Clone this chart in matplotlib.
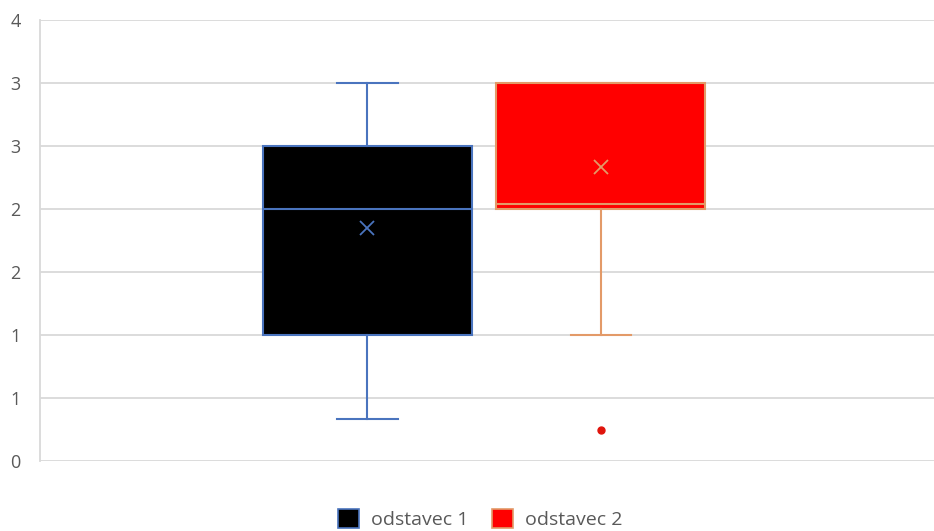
import matplotlib
matplotlib.use("Agg")
import matplotlib.pyplot as plt
import numpy as np
from matplotlib.patches import Patch
from matplotlib.ticker import FuncFormatter, MultipleLocator

# box statistics
labels = ['odstavec 1', 'odstavec 2']
whislo = [0.33, 1.0]
q1 = [1.0, 2.0]
med = [2.0, 2.04]
q3 = [2.5, 3.0]
whishi = [3.0, 3.0]
means = [1.85, 2.33]
fliers = [[], [0.25]]

fills = ['#000000', '#FF0000']
edges = ['#4A74BE', '#E39A68']

plt.rcParams['font.family'] = ['Open Sans', 'DejaVu Sans']

fig = plt.figure(figsize=(9.34, 5.31), dpi=100)
ax = fig.add_axes([40 / 934, 70 / 531, 894 / 934, 441 / 531])

positions = [0.3663, 0.6275]
for i in range(len(labels)):
    stats = [dict(whislo=whislo[i], q1=q1[i], med=med[i], q3=q3[i],
                  whishi=whishi[i], mean=means[i], fliers=fliers[i], label=labels[i])]
    ax.bxp(stats, positions=[positions[i]], widths=0.2338, capwidths=0.068,
           patch_artist=True, showmeans=True, manage_ticks=False,
           boxprops=dict(facecolor=fills[i], edgecolor=edges[i], linewidth=1.5),
           medianprops=dict(color=edges[i], linewidth=1.5),
           whiskerprops=dict(color=edges[i], linewidth=1.5),
           capprops=dict(color=edges[i], linewidth=1.5),
           meanprops=dict(marker='x', markeredgecolor=edges[i], markersize=10,
                          markeredgewidth=1.3),
           flierprops=dict(marker='o', markerfacecolor='#E0140C',
                           markeredgecolor='#E0140C', markersize=5))

ax.set_xlim(0, 1)
ax.set_ylim(0, 3.5)
ax.yaxis.set_major_locator(MultipleLocator(0.5))
ax.yaxis.set_major_formatter(FuncFormatter(lambda v, p: str(int(np.floor(v + 0.5)))))
ax.grid(axis='y', color='#D9D9D9', linewidth=1.3)
ax.set_axisbelow(True)
ax.set_xticks([])
for s in ['top', 'right', 'bottom']:
    ax.spines[s].set_visible(False)
ax.spines['left'].set_color('#D9D9D9')
ax.spines['left'].set_linewidth(1.3)
ax.tick_params(axis='y', length=0, pad=14, labelsize=13, labelcolor='#595959')

handles = [Patch(facecolor=fills[i], edgecolor=edges[i], linewidth=1.2) for i in range(2)]
fig.legend(handles, labels, loc='center', bbox_to_anchor=(0.514, 1 - 519 / 531), ncol=2,
           frameon=False, fontsize=14, labelcolor='#595959', handlelength=1.1,
           handleheight=1.1, handletextpad=0.6, columnspacing=1.2)

fig.savefig('out.png', dpi=100)
